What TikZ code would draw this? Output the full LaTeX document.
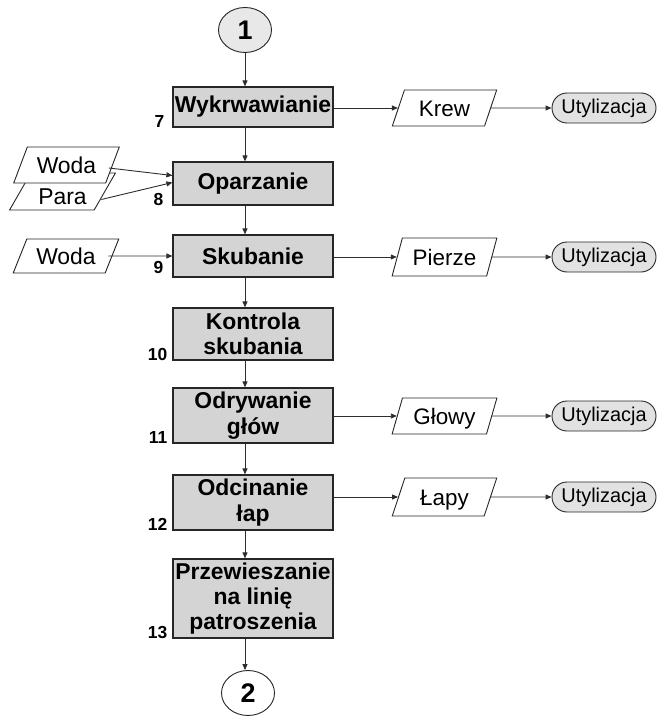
\documentclass[tikz,border=0pt]{standalone}
\usepackage{fontspec}
\setmainfont{Liberation Sans}
\usetikzlibrary{shapes.geometric,shapes.misc,arrows.meta}
\definecolor{boxgray}{RGB}{212,212,212}
\definecolor{utilgray}{RGB}{226,226,226}
\definecolor{circgray}{RGB}{232,232,232}
\definecolor{linegray}{RGB}{45,45,45}
\begin{document}
\begin{tikzpicture}[x=1bp,y=-1bp,
  stepbox/.style={draw=black!85,line width=1.2bp,fill=boxgray,minimum width=160bp,
    inner sep=0pt,align=center,font=\fontsize{23}{25.5}\selectfont\bfseries},
  numlbl/.style={inner sep=0pt,anchor=south east,font=\fontsize{17.5}{17.5}\selectfont\bfseries},
  datain/.style={trapezium,trapezium left angle=58,trapezium right angle=122,
    trapezium stretches=true,draw=black!85,line width=0.9bp,fill=white,
    minimum width=106bp,minimum height=36bp,inner sep=0pt,
    text height=16.5bp,text depth=0bp,
    font=\fontsize{23}{24}\selectfont},
  dataout/.style={datain,trapezium left angle=65,trapezium right angle=115,
    minimum width=105bp,font=\fontsize{22.5}{23}\selectfont},
  util/.style={rounded rectangle,draw=black!85,line width=0.9bp,fill=utilgray,
    minimum width=104bp,minimum height=30bp,inner sep=0pt,
    font=\fontsize{20}{20}\selectfont},
  conn/.style={draw=linegray,line width=0.9bp,-{Triangle[length=6bp,width=5bp]}},
  link/.style={ellipse,draw=black!85,line width=0.9bp,minimum width=53bp,
    minimum height=45bp,inner sep=0pt,font=\fontsize{27}{27}\selectfont\bfseries}
]
\useasboundingbox (0,0) rectangle (658,716);

% connectors between pages
\node[link,fill=circgray] (c1) at (245,30) {1};
\node[link,fill=white] (c2) at (248,693) {2};

% process steps
\node[stepbox,minimum height=40bp] (b7) at (253,107) {Wykrwawianie};
\node[stepbox,minimum height=43bp] (b8) at (253,183.5) {Oparzanie};
\node[stepbox,minimum height=42bp] (b9) at (253,256) {Skubanie};
\node[stepbox,minimum height=52bp] (b10) at (253,334) {Kontrola\\skubania};
\node[stepbox,minimum height=55bp] (b11) at (253,415.5) {Odrywanie\\głów};
\node[stepbox,minimum height=55bp] (b12) at (253,502.5) {Odcinanie\\łap};
\node[stepbox,minimum height=79bp] (b13) at (253,598.5) {Przewieszanie\\na linię\\patroszenia};

% step numbers
\node[numlbl] (n7) at ([xshift=-8bp]b7.south west) {7};
\node[numlbl] (n8) at ([xshift=-9bp]b8.south west) {8};
\node[numlbl] (n9) at ([xshift=-9bp,yshift=4bp]b9.south west) {9};
\node[numlbl] (n10) at ([xshift=-5bp]b10.south west) {10};
\node[numlbl] (n11) at ([xshift=-5bp]b11.south west) {11};
\node[numlbl] (n12) at ([xshift=-5bp]b12.south west) {12};
\node[numlbl] (n13) at ([xshift=-5bp]b13.south west) {13};

% main flow
\draw[conn] (c1.south) -- (b7.north -| c1.south);
\draw[conn] (b7.south -| c1.south) -- (b8.north -| c1.south);
\draw[conn] (b8.south -| c1.south) -- (b9.north -| c1.south);
\draw[conn] (b9.south -| c1.south) -- (b10.north -| c1.south);
\draw[conn] (b10.south -| c1.south) -- (b11.north -| c1.south);
\draw[conn] (b11.south -| c1.south) -- (b12.north -| c1.south);
\draw[conn] (b12.south -| c1.south) -- (b13.north -| c1.south);
\draw[conn] (b13.south -| c1.south) -- (c2.north -| c1.south);

% inputs: the lower sheet (Para) sits partly under Woda, its text set low
\node[datain,minimum height=37bp,text height=26bp,text depth=0bp] (para) at (62.5,191.5) {Para};
\node[datain] (woda8) at (66.5,165) {Woda};
\node[datain,minimum height=34bp] (woda9) at (66,256) {Woda};
\draw[conn] ([xshift=-4bp,yshift=-3bp]woda8.east) -- ([yshift=8bp]b8.west);
\draw[conn] ([xshift=-4bp,yshift=-8bp]para.east) -- ([yshift=1bp]b8.west);
\draw[conn] ([xshift=-4bp]woda9.east) -- (b9.west);

% outputs and disposal
\node[dataout] (krew) at (444.5,108) {Krew};
\node[util] (u7) at (604,108) {Utylizacja};
\node[dataout,minimum height=38bp] (pierze) at (444.5,257) {Pierze};
\node[util] (u9) at (604,257) {Utylizacja};
\node[dataout] (glowy) at (444.5,416) {Głowy};
\node[util] (u11) at (604,416) {Utylizacja};
\node[dataout,minimum height=38bp] (lapy) at (444.5,497) {Łapy};
\node[util] (u12) at (604,497) {Utylizacja};

\draw[conn] (b7.east |- krew.west) -- (krew.west);
\draw[conn] (krew.east) -- (u7.west);
\draw[conn] (b9.east |- pierze.west) -- (pierze.west);
\draw[conn] (pierze.east) -- (u9.west);
\draw[conn] (b11.east |- glowy.west) -- (glowy.west);
\draw[conn] (glowy.east) -- (u11.west);
\draw[conn] (b12.east |- lapy.west) -- (lapy.west);
\draw[conn] (lapy.east) -- (u12.west);
\end{tikzpicture}
\end{document}
